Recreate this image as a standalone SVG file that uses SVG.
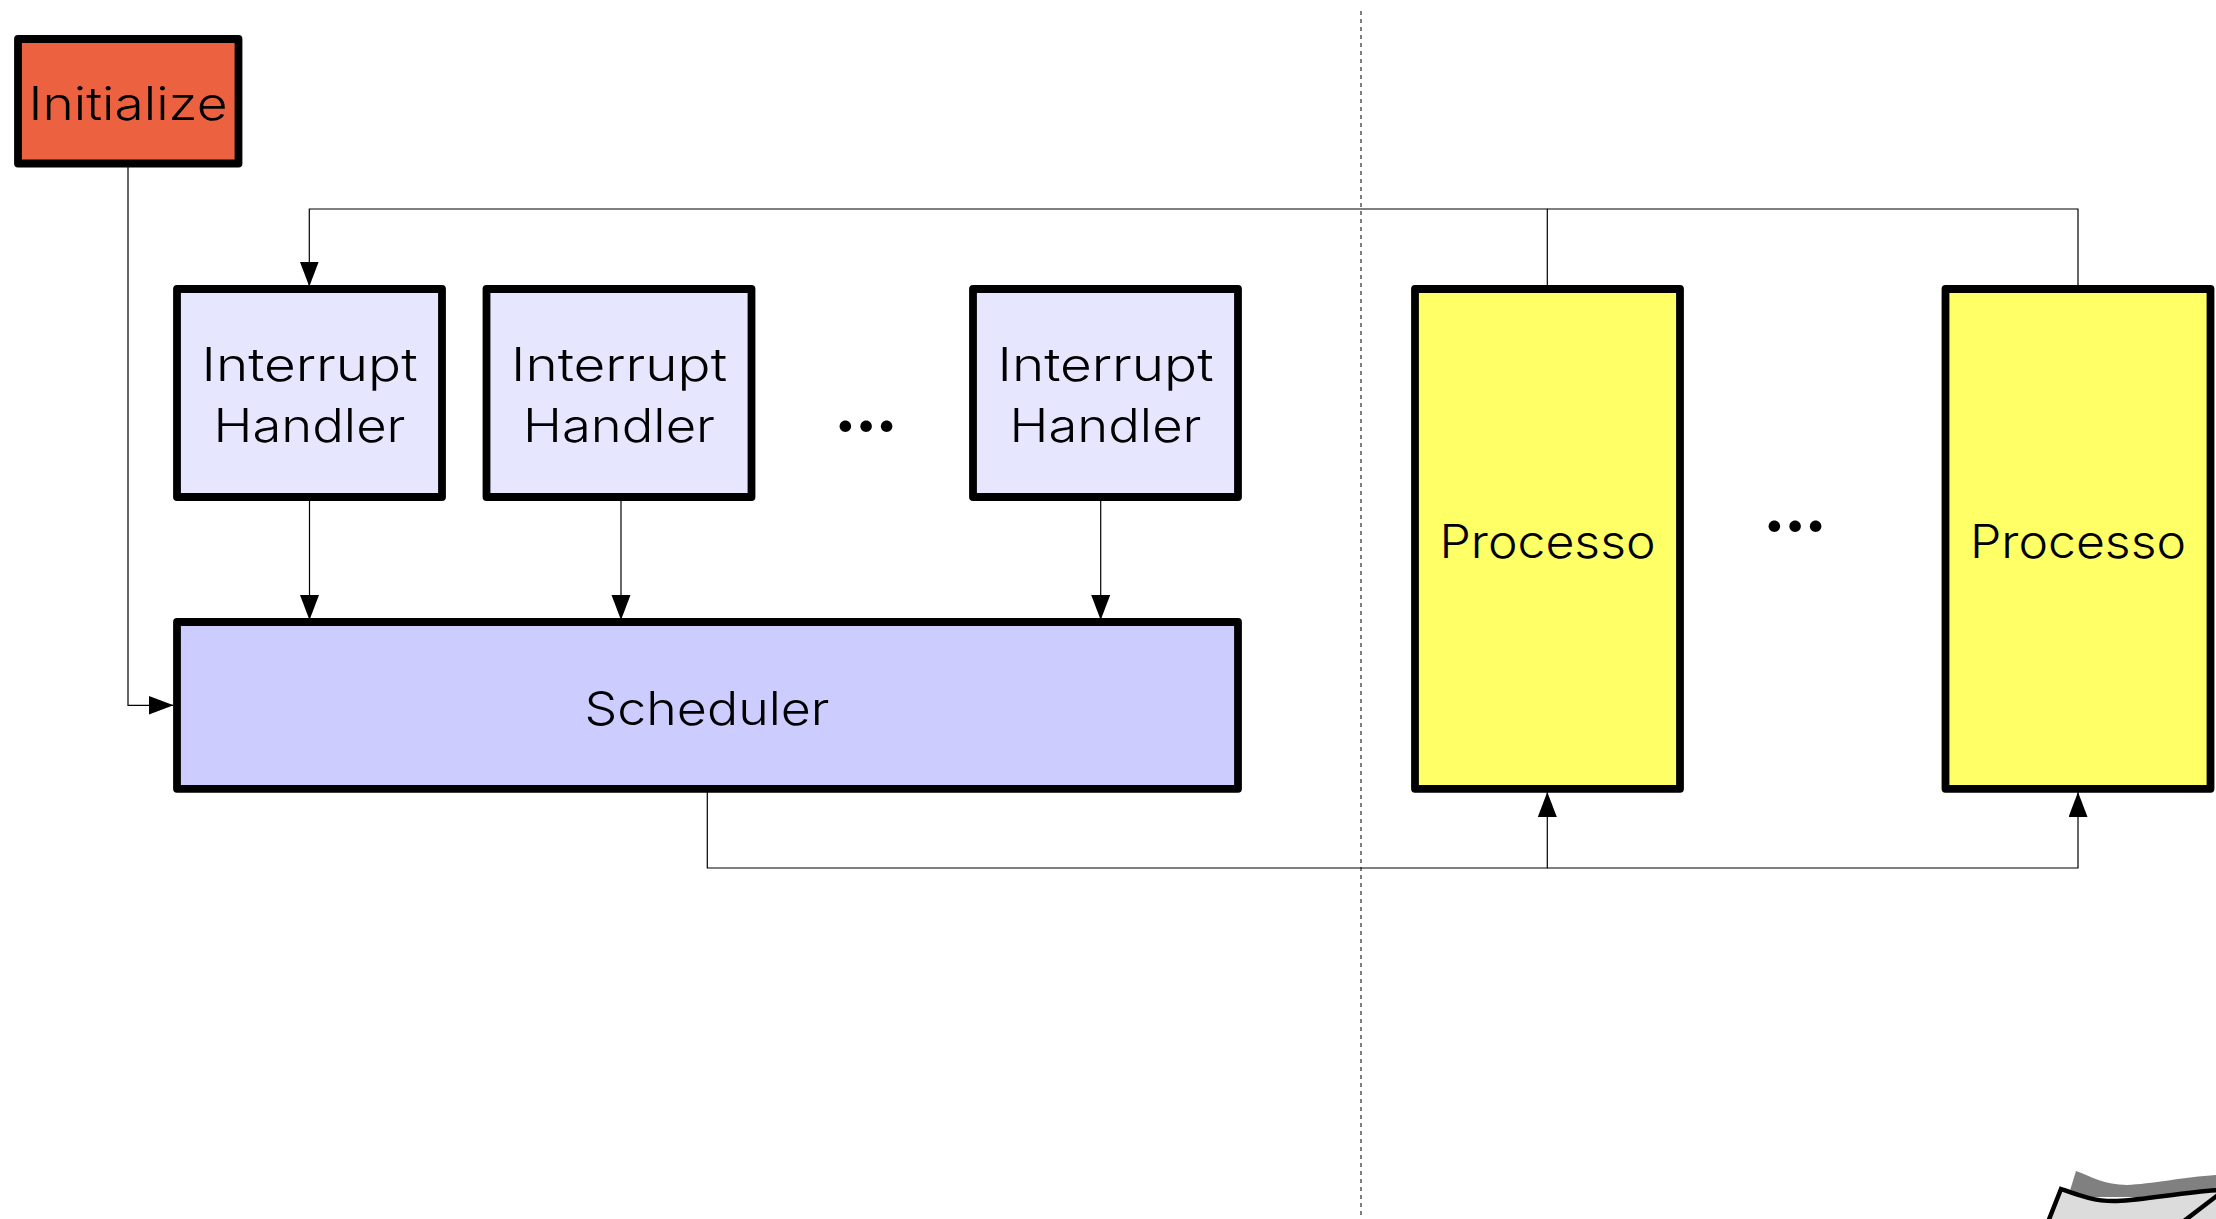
<svg xmlns="http://www.w3.org/2000/svg" width="2216" height="1219" viewBox="0 0 2216 1219">
<style>
.box{stroke:#000;stroke-width:7.8;stroke-linejoin:round}
.t{font-family:"Inter","Noto Sans","Liberation Sans",sans-serif;font-weight:300;font-size:46px;fill:#000;text-anchor:middle}
.dots{font-family:"Inter","Liberation Sans",sans-serif;font-weight:700;font-size:68px;fill:#000;text-anchor:middle;letter-spacing:-2.100px}
.c{fill:none;stroke:#000;stroke-width:1.200}
</style>
<defs>
<marker id="arrow" markerUnits="userSpaceOnUse" markerWidth="26" markerHeight="20" refX="25" refY="9.5" orient="auto"><path d="M0 0L25 9.5L0 19z" fill="#000"/></marker>
</defs>
<rect width="2216" height="1219" fill="#fff"/>
<line id="divider" x1="1361" y1="11" x2="1361" y2="1219" stroke="#555" stroke-width="1.500" stroke-dasharray="4 4"/>
<g id="initialize"><rect class="box" x="18" y="39" width="220.500" height="124.500" fill="#ec6240"/><text class="t" x="128" y="120" textLength="199" lengthAdjust="spacingAndGlyphs">Initialize</text></g>
<g id="handler1"><rect class="box" x="177" y="289" width="265" height="208" fill="#e6e6ff"/><text class="t" x="309.500" y="381" textLength="216" lengthAdjust="spacingAndGlyphs">Interrupt</text><text class="t" x="309.500" y="442" textLength="192" lengthAdjust="spacingAndGlyphs">Handler</text></g>
<g id="handler2"><rect class="box" x="486.500" y="289" width="265" height="208" fill="#e6e6ff"/><text class="t" x="619" y="381" textLength="216" lengthAdjust="spacingAndGlyphs">Interrupt</text><text class="t" x="619" y="442" textLength="192" lengthAdjust="spacingAndGlyphs">Handler</text></g>
<text class="dots" x="865" y="430.500">...</text>
<g id="handler3"><rect class="box" x="973" y="289" width="265" height="208" fill="#e6e6ff"/><text class="t" x="1105.500" y="381" textLength="216" lengthAdjust="spacingAndGlyphs">Interrupt</text><text class="t" x="1105.500" y="442" textLength="192" lengthAdjust="spacingAndGlyphs">Handler</text></g>
<g id="scheduler"><rect class="box" x="177" y="622" width="1061" height="166.800" fill="#ccccff"/><text class="t" x="707" y="725" textLength="245" lengthAdjust="spacingAndGlyphs">Scheduler</text></g>
<g id="processo1"><rect class="box" x="1415" y="289" width="265" height="499.800" fill="#ffff66"/><text class="t" x="1547.500" y="558" textLength="216" lengthAdjust="spacingAndGlyphs">Processo</text></g>
<text class="dots" x="1794" y="530.500">...</text>
<g id="processo2"><rect class="box" x="1945.500" y="289" width="265" height="499.800" fill="#ffff66"/><text class="t" x="2078" y="558" textLength="216" lengthAdjust="spacingAndGlyphs">Processo</text></g>
<g id="connectors">
<path class="c" d="M128 167V705.300H173.500" marker-end="url(#arrow)"/>
<path class="c" d="M1547.300 285V209H309.300V286.500" marker-end="url(#arrow)"/>
<path class="c" d="M2078 285V209H1547.300"/>
<path class="c" d="M309.500 500V620" marker-end="url(#arrow)"/>
<path class="c" d="M621 500V620" marker-end="url(#arrow)"/>
<path class="c" d="M1100.700 500V620" marker-end="url(#arrow)"/>
<path class="c" d="M707.300 792V868H1547.300V792" marker-end="url(#arrow)"/>
<path class="c" d="M1547.300 868H2078V792" marker-end="url(#arrow)"/>
</g>
<g id="shape">
<path d="M2076 1171C2090 1176 2105 1185 2127 1185C2150 1184 2185 1177 2216 1175V1197L2068 1197z" fill="#808080"/>
<path d="M2048 1222L2061 1189C2075 1194 2095 1202 2117 1201C2145 1200 2185 1192 2220 1190V1222z" fill="#dcdcdc" stroke="#000" stroke-width="4.500"/>
<path d="M2218 1195L2184 1221" fill="none" stroke="#000" stroke-width="4.500"/>
</g>
</svg>
